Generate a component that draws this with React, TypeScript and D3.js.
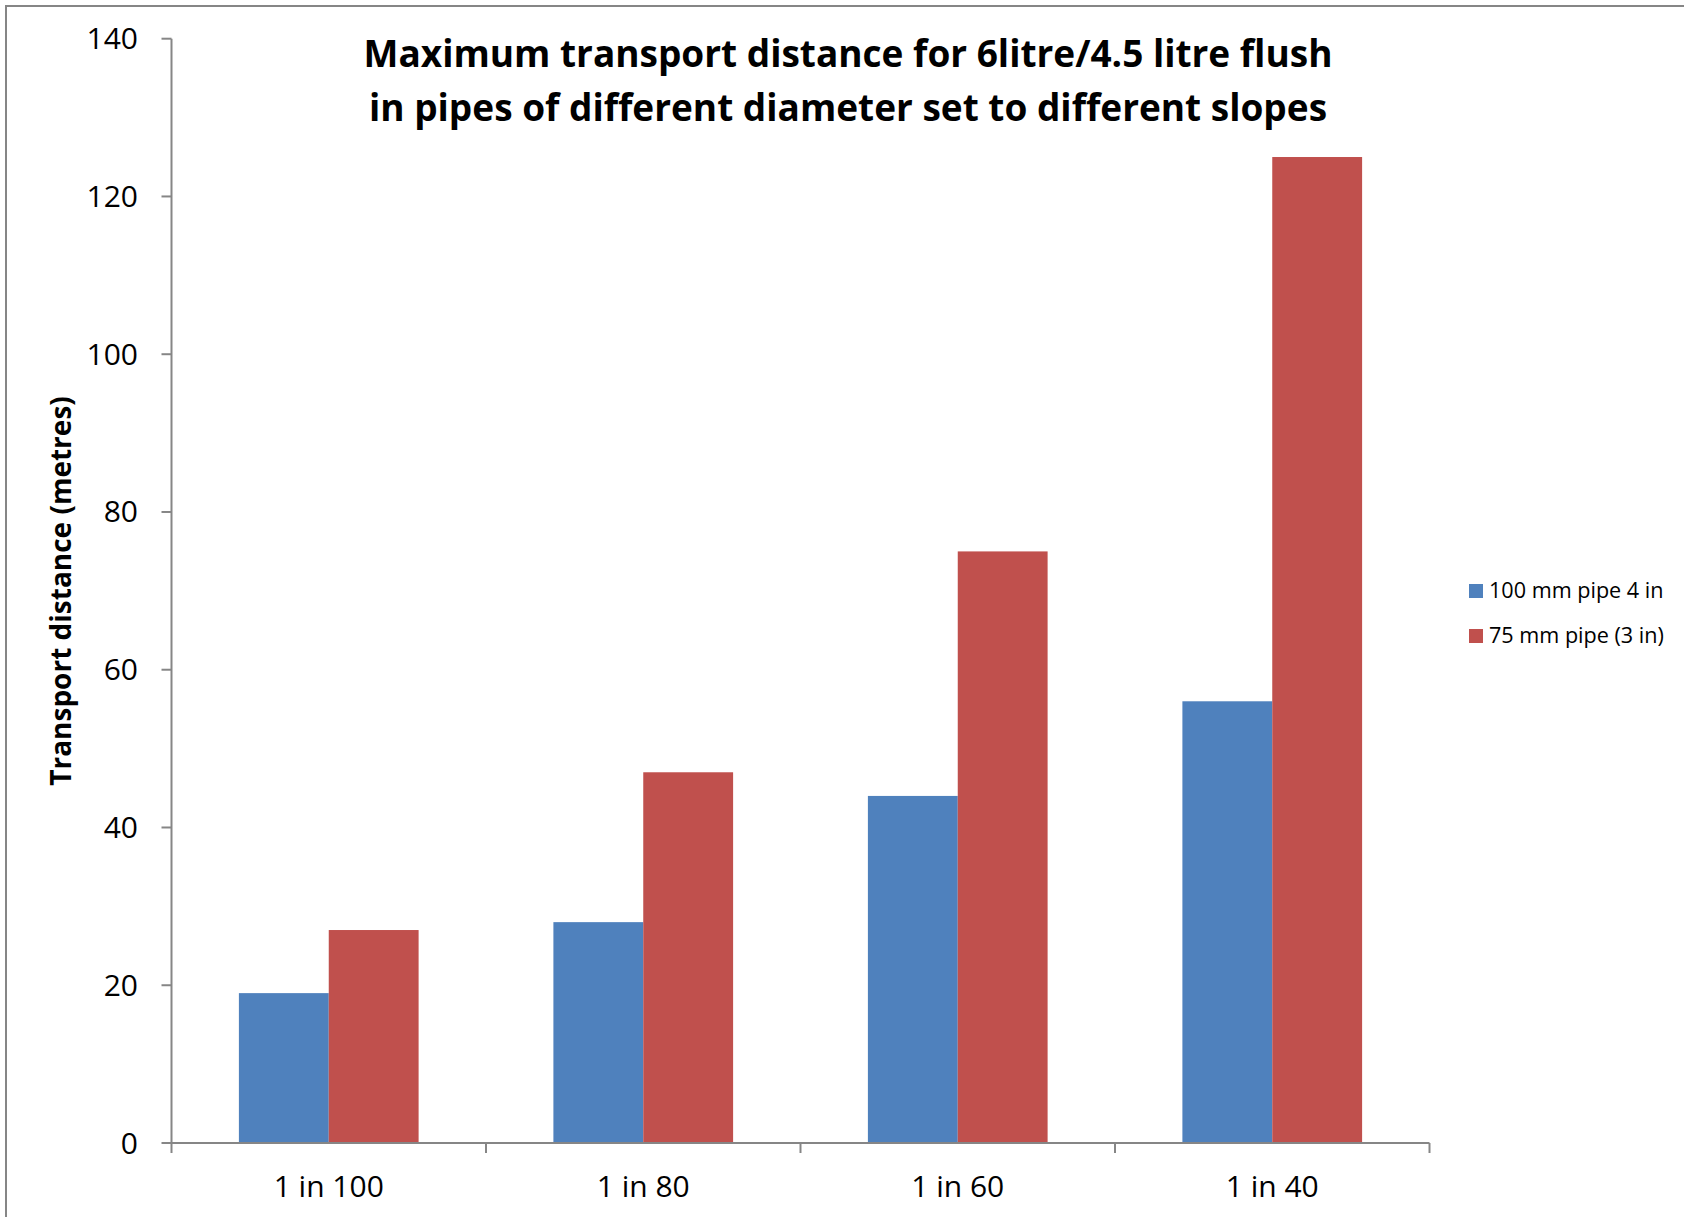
import React from "react";
import * as d3 from "d3";

// Slopes along the x axis
const categories: string[] = ["1 in 100", "1 in 80", "1 in 60", "1 in 40"];
// Series names shown in the legend
const seriesNames: string[] = ["100 mm pipe 4 in", "75 mm pipe (3 in)"];
// Maximum transport distance (metres) per slope
const pipe100mm: number[] = [19, 28, 44, 56];
const pipe75mm: number[] = [27, 47, 75, 125];
const yTicks: number[] = [0, 20, 40, 60, 80, 100, 120, 140];
const titleLines: string[] = [
  "Maximum transport distance for 6litre/4.5 litre flush",
  "in pipes of different diameter set to different slopes",
];
const yAxisTitle = "Transport distance (metres)";

const W = 1684;
const H = 1217;
const FONT = "'Open Sans', 'Noto Sans', sans-serif";
const AXIS = "#868686";
const COLORS = ["#4F81BD", "#C0504D"];

export default function App() {
  const plot = { left: 171.5, right: 1429.5, top: 38.7, bottom: 1143 };
  const values = [pipe100mm, pipe75mm];

  const x = d3
    .scaleBand<string>()
    .domain(categories)
    .range([plot.left, plot.right])
    .paddingInner(0)
    .paddingOuter(0);
  const inner = d3
    .scaleBand<string>()
    .domain(seriesNames)
    .range([0, x.bandwidth()])
    .paddingInner(0)
    .paddingOuter(0.75);
  const y = d3.scaleLinear().domain([0, 140]).range([plot.bottom, plot.top]);

  const boundaries = [...categories.map((c) => x(c)!), plot.right];

  return (
    <svg
      width={W}
      height={H}
      style={{ position: "absolute", left: 0, top: 0, display: "block", background: "#fff" }}
      fontFamily={FONT}
    >
      <rect x={0} y={0} width={W} height={H} fill="#fff" />
      {/* chart area frame */}
      <rect x={6} y={6} width={W + 20} height={H + 20} fill="none" stroke={AXIS} strokeWidth={2} />

      {/* title */}
      <text textAnchor="middle" fontWeight="bold" fontSize={37} fill="#000">
        {titleLines.map((t, i) => (
          <tspan key={i} x={848} y={67 + i * 54}>
            {t}
          </tspan>
        ))}
      </text>

      {/* bars */}
      {seriesNames.map((s, si) =>
        categories.map((c, ci) => {
          const v = values[si][ci];
          return (
            <rect
              key={s + c}
              x={x(c)! + inner(s)!}
              y={y(v)}
              width={inner.bandwidth()}
              height={y(0) - y(v)}
              fill={COLORS[si]}
            />
          );
        })
      )}

      {/* y axis */}
      <line x1={plot.left} x2={plot.left} y1={plot.top} y2={plot.bottom} stroke={AXIS} strokeWidth={2} />
      {yTicks.map((t) => (
        <g key={t}>
          <line x1={plot.left - 10} x2={plot.left} y1={y(t)} y2={y(t)} stroke={AXIS} strokeWidth={2} />
          <text x={138} y={y(t)} dy="0.35em" textAnchor="end" fontSize={30} fill="#000">
            {t}
          </text>
        </g>
      ))}

      {/* x axis */}
      <line x1={plot.left} x2={plot.right} y1={plot.bottom} y2={plot.bottom} stroke={AXIS} strokeWidth={2} />
      {boundaries.map((bx, i) => (
        <line key={i} x1={bx} x2={bx} y1={plot.bottom} y2={plot.bottom + 10} stroke={AXIS} strokeWidth={2} />
      ))}
      {categories.map((c) => (
        <text key={c} x={x(c)! + x.bandwidth() / 2} y={1197} textAnchor="middle" fontSize={30} fill="#000">
          {c}
        </text>
      ))}

      {/* y axis title */}
      <text
        transform={`translate(71, 591) rotate(-90)`}
        textAnchor="middle"
        fontWeight="bold"
        fontSize={28}
        fill="#000"
      >
        {yAxisTitle}
      </text>

      {/* legend */}
      {seriesNames.map((s, i) => (
        <g key={s} transform={`translate(1469, ${584 + i * 45})`}>
          <rect x={0} y={0} width={14} height={14} fill={COLORS[i]} />
          <text x={20} y={14} fontSize={21.6} fill="#000">
            {s}
          </text>
        </g>
      ))}
    </svg>
  );
}
